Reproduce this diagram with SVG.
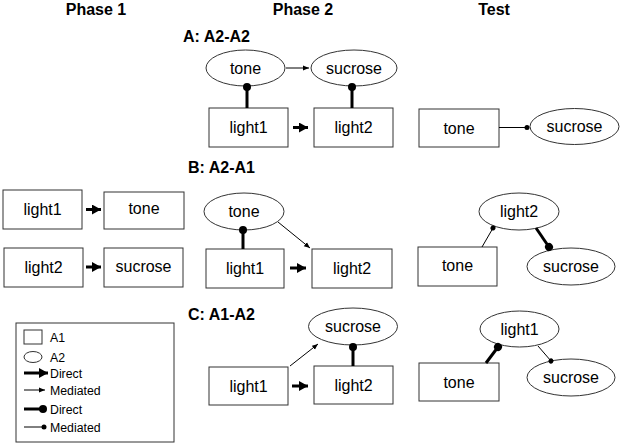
<svg xmlns="http://www.w3.org/2000/svg" width="622" height="445" viewBox="0 0 622 445">
<style>
text{font-family:"Liberation Sans",Arial,sans-serif;fill:#000}
.h{font-size:16px;font-weight:bold}
.n{font-size:16px;text-anchor:middle}
.lg{font-size:12.3px}
.box{fill:#fff;stroke:#333;stroke-width:1}
.thick{stroke:#000;stroke-width:3;fill:none}
.thin{stroke:#000;stroke-width:1;fill:none}
</style>
<defs>
<marker id="ah" markerUnits="userSpaceOnUse" markerWidth="9" markerHeight="10" refX="9" refY="5" orient="auto"><path d="M0,0 L9,5 L0,10 z" fill="#000"/></marker>
<marker id="ahs" markerUnits="userSpaceOnUse" markerWidth="6" markerHeight="6" refX="6" refY="3" orient="auto"><path d="M0,0.5 L6,3 L0,5.5 z" fill="#000"/></marker>
<marker id="db" markerUnits="userSpaceOnUse" markerWidth="10" markerHeight="10" refX="5" refY="5" orient="auto"><circle cx="5" cy="5" r="4" fill="#000"/></marker>
<marker id="ds" markerUnits="userSpaceOnUse" markerWidth="6" markerHeight="6" refX="3" refY="3" orient="auto"><circle cx="3" cy="3" r="2.5" fill="#000"/></marker>
</defs>
<rect width="622" height="445" fill="#fff"/>

<g id="headers">
<text class="h" x="96" y="15" text-anchor="middle">Phase 1</text>
<text class="h" x="303" y="15" text-anchor="middle">Phase 2</text>
<text class="h" x="494" y="15" text-anchor="middle">Test</text>
<text class="h" x="183" y="41.5">A: A2-A2</text>
<text class="h" x="188" y="172.5">B: A2-A1</text>
<text class="h" x="188" y="320">C: A1-A2</text>
</g>

<!-- Section A -->
<g id="A_tone"><ellipse class="box" cx="245.5" cy="68" rx="39.5" ry="18"/><text class="n" x="245.5" y="73.7">tone</text></g>
<g id="A_sucrose"><ellipse class="box" cx="354" cy="68" rx="43" ry="18"/><text class="n" x="354" y="73.7">sucrose</text></g>
<g id="A_light1"><rect class="box" x="209" y="108" width="79" height="39"/><text class="n" x="248.5" y="133.2">light1</text></g>
<g id="A_light2"><rect class="box" x="314" y="108" width="79" height="39"/><text class="n" x="353.5" y="133.2">light2</text></g>
<g id="AT_tone"><rect class="box" x="419" y="109" width="80" height="38"/><text class="n" x="459" y="133.7">tone</text></g>
<g id="AT_sucrose"><ellipse class="box" cx="574.5" cy="126.5" rx="44.5" ry="18"/><text class="n" x="574.5" y="132.2">sucrose</text></g>

<!-- Section B -->
<g id="P1_light1"><rect class="box" x="3" y="190" width="79" height="39"/><text class="n" x="42.5" y="215.2">light1</text></g>
<g id="P1_tone"><rect class="box" x="104" y="192" width="80" height="37"/><text class="n" x="144" y="214">tone</text></g>
<g id="P1_light2"><rect class="box" x="4" y="248" width="79" height="39"/><text class="n" x="43.5" y="273.2">light2</text></g>
<g id="P1_sucrose"><rect class="box" x="104" y="248" width="79" height="39"/><text class="n" x="143.5" y="272">sucrose</text></g>
<g id="B_tone"><ellipse class="box" cx="244" cy="211.5" rx="40" ry="18.5"/><text class="n" x="244" y="217.2">tone</text></g>
<g id="B_light1"><rect class="box" x="206" y="249" width="78" height="39"/><text class="n" x="245" y="274.2">light1</text></g>
<g id="B_light2"><rect class="box" x="312" y="249" width="80" height="39"/><text class="n" x="352" y="274.2">light2</text></g>
<g id="BT_light2"><ellipse class="box" cx="519" cy="211.5" rx="40" ry="18.5"/><text class="n" x="519" y="217.2">light2</text></g>
<g id="BT_tone"><rect class="box" x="418" y="247" width="79" height="39"/><text class="n" x="457.5" y="271">tone</text></g>
<g id="BT_sucrose"><ellipse class="box" cx="571" cy="266.5" rx="44" ry="18.5"/><text class="n" x="571" y="272.2">sucrose</text></g>

<!-- Section C -->
<g id="C_sucrose"><ellipse class="box" cx="353" cy="326.5" rx="44.5" ry="18.5"/><text class="n" x="353" y="332">sucrose</text></g>
<g id="C_light1"><rect class="box" x="209" y="367" width="79" height="38"/><text class="n" x="248.5" y="391.7">light1</text></g>
<g id="C_light2"><rect class="box" x="314" y="366" width="79" height="38"/><text class="n" x="353.5" y="390.7">light2</text></g>
<g id="CT_light1"><ellipse class="box" cx="519.5" cy="329" rx="39.5" ry="18"/><text class="n" x="519.5" y="334.7">light1</text></g>
<g id="CT_tone"><rect class="box" x="419" y="363" width="80" height="38"/><text class="n" x="459" y="387.7">tone</text></g>
<g id="CT_sucrose"><ellipse class="box" cx="571" cy="377.5" rx="44" ry="18.5"/><text class="n" x="571" y="383.2">sucrose</text></g>

<!-- Legend -->
<g id="legend">
<rect class="box" x="16" y="323" width="158" height="119"/>
<rect class="box" x="24" y="330" width="18" height="14"/>
<text class="lg" x="50" y="342">A1</text>
<ellipse class="box" cx="33" cy="357" rx="9" ry="5.5"/>
<text class="lg" x="50" y="361.5">A2</text>
<line class="thick" x1="24" y1="373" x2="48" y2="373" marker-end="url(#ah)"/>
<text class="lg" x="50" y="378">Direct</text>
<line class="thin" x1="24" y1="390" x2="45" y2="390" marker-end="url(#ahs)"/>
<text class="lg" x="50" y="395">Mediated</text>
<line class="thick" x1="24" y1="409" x2="43" y2="409" marker-end="url(#db)"/>
<text class="lg" x="50" y="414">Direct</text>
<line class="thin" x1="24" y1="427" x2="44" y2="427" marker-end="url(#ds)"/>
<text class="lg" x="50" y="431.5">Mediated</text>
</g>

<g id="connectors">
<line class="thin" x1="286" y1="68" x2="309" y2="68" marker-end="url(#ahs)"/>
<line class="thick" x1="293" y1="127.5" x2="308" y2="127.5" marker-end="url(#ah)"/>
<line class="thick" x1="247" y1="108" x2="247" y2="87" marker-end="url(#db)"/>
<line class="thick" x1="352" y1="108" x2="352" y2="87" marker-end="url(#db)"/>
<line class="thin" x1="499" y1="127.5" x2="527" y2="127.5" marker-end="url(#ds)"/>

<line class="thick" x1="86" y1="209.5" x2="101" y2="209.5" marker-end="url(#ah)"/>
<line class="thick" x1="86" y1="267" x2="101" y2="267" marker-end="url(#ah)"/>
<line class="thick" x1="243" y1="249" x2="243" y2="230" marker-end="url(#db)"/>
<line class="thick" x1="290" y1="268" x2="306" y2="268" marker-end="url(#ah)"/>
<line class="thin" x1="278" y1="222" x2="310" y2="248" marker-end="url(#ahs)"/>
<line class="thin" x1="482" y1="247" x2="493" y2="228" marker-end="url(#ds)"/>
<line class="thick" x1="536" y1="228" x2="549" y2="247" marker-end="url(#db)"/>

<line class="thick" x1="292" y1="386" x2="308" y2="386" marker-end="url(#ah)"/>
<line class="thin" x1="290" y1="366" x2="318" y2="344" marker-end="url(#ahs)"/>
<line class="thick" x1="353" y1="366" x2="353" y2="347" marker-end="url(#db)"/>
<line class="thick" x1="486" y1="363" x2="498" y2="347" marker-end="url(#db)"/>
<line class="thin" x1="538" y1="346" x2="551" y2="361" marker-end="url(#ds)"/>
</g>
</svg>
